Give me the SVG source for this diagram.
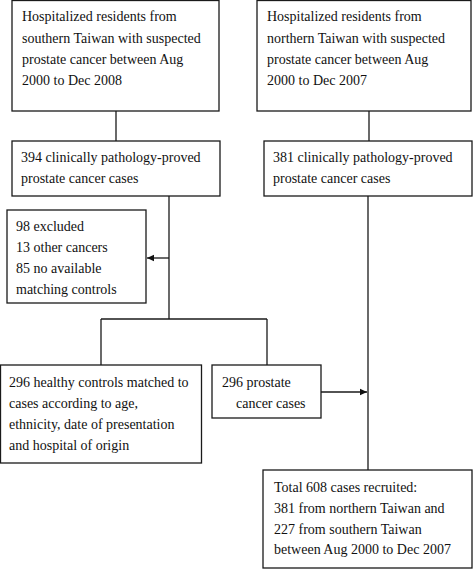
<svg xmlns="http://www.w3.org/2000/svg" width="473" height="570" viewBox="0 0 473 570">
<style>
.box{fill:#fff;stroke:#1a1a1a;stroke-width:1.3}
.t{font-family:'Liberation Serif','Tinos','DejaVu Serif',serif;font-size:14px;fill:#111}
.c{fill:none;stroke:#1a1a1a;stroke-width:1.3}
</style>
<defs>
<marker id="ah" markerWidth="8" markerHeight="8" refX="7" refY="4" orient="auto" markerUnits="userSpaceOnUse">
<path d="M0,0.8 L7,4 L0,7.2 Z" fill="#111"/>
</marker>
</defs>
<rect width="473" height="570" fill="#fff"/>
<g id="connectors">
<line class="c" x1="116" y1="111" x2="116" y2="141"/>
<line class="c" x1="369" y1="111" x2="369" y2="141"/>
<line class="c" x1="169" y1="196" x2="169" y2="319"/>
<line class="c" x1="169" y1="258" x2="147" y2="258" marker-end="url(#ah)"/>
<line class="c" x1="101" y1="319" x2="267" y2="319"/>
<line class="c" x1="101" y1="319" x2="101" y2="365"/>
<line class="c" x1="267" y1="319" x2="267" y2="365"/>
<line class="c" x1="368" y1="196" x2="368" y2="470"/>
<line class="c" x1="321" y1="392" x2="367" y2="392" marker-end="url(#ah)"/>
</g>
<g id="south-hospitalized">
<rect class="box" x="12" y="0.5" width="207" height="110.5"/>
<text class="t" x="22" y="21">Hospitalized residents from</text>
<text class="t" x="22" y="42.5">southern Taiwan with suspected</text>
<text class="t" x="22" y="64">prostate cancer between Aug</text>
<text class="t" x="22" y="85">2000 to Dec 2008</text>
</g>
<g id="north-hospitalized">
<rect class="box" x="257" y="0.5" width="214" height="110.5"/>
<text class="t" x="267" y="21">Hospitalized residents from</text>
<text class="t" x="267" y="42.5">northern Taiwan with suspected</text>
<text class="t" x="267" y="64">prostate cancer between Aug</text>
<text class="t" x="267" y="85">2000 to Dec 2007</text>
</g>
<g id="south-proved">
<rect class="box" x="12" y="141" width="208" height="55"/>
<text class="t" x="21" y="162">394 clinically pathology-proved</text>
<text class="t" x="21" y="183">prostate cancer cases</text>
</g>
<g id="north-proved">
<rect class="box" x="264" y="141" width="208" height="55"/>
<text class="t" x="273" y="162">381 clinically pathology-proved</text>
<text class="t" x="273" y="183">prostate cancer cases</text>
</g>
<g id="excluded">
<rect class="box" x="7" y="210" width="139" height="93"/>
<text class="t" x="16" y="231">98 excluded</text>
<text class="t" x="16" y="252">13 other cancers</text>
<text class="t" x="16" y="273">85 no available</text>
<text class="t" x="16" y="294">matching controls</text>
</g>
<g id="healthy-controls">
<rect class="box" x="0.5" y="365" width="201" height="98"/>
<text class="t" x="9" y="387">296 healthy controls matched to</text>
<text class="t" x="9" y="408">cases according to age,</text>
<text class="t" x="9" y="429">ethnicity, date of presentation</text>
<text class="t" x="9" y="450">and hospital of origin</text>
</g>
<g id="prostate-cases">
<rect class="box" x="212" y="365" width="109" height="53"/>
<text class="t" x="222" y="387">296 prostate</text>
<text class="t" x="236" y="408">cancer cases</text>
</g>
<g id="total">
<rect class="box" x="263" y="470" width="209" height="98"/>
<text class="t" x="274" y="492">Total 608 cases recruited:</text>
<text class="t" x="274" y="513">381 from northern Taiwan and</text>
<text class="t" x="274" y="534">227 from southern Taiwan</text>
<text class="t" x="274" y="554">between Aug 2000 to Dec 2007</text>
</g>
</svg>
